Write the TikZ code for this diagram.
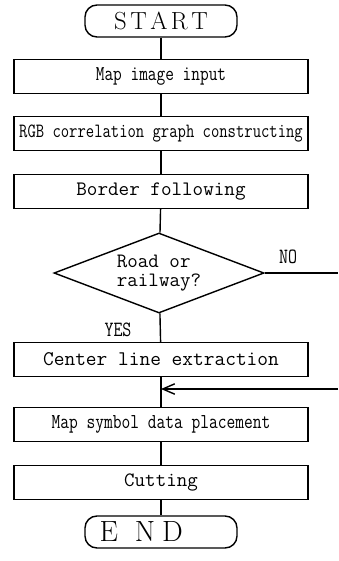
\documentclass[tikz,border=0pt]{standalone}
\usepackage{fontspec}
\usepackage{graphicx}
\usetikzlibrary{shapes.geometric,arrows.meta}
\newcommand{\squeeze}[1]{\scalebox{0.8}[1]{#1}}

\begin{document}
\begin{tikzpicture}[x=0.025cm, y=-0.025cm,
  termbox/.style={draw, line width=1pt, rounded corners=0.3cm, minimum width=3.8cm, minimum height=0.8cm, inner sep=0pt},
  procbox/.style={draw, line width=1pt, minimum width=7.35cm, minimum height=0.85cm, inner sep=1pt},
  decbox/.style={draw, line width=1pt, diamond, aspect=2.625, minimum width=5.25cm, minimum height=2cm, inner sep=0pt, align=left},
  flow/.style={line width=1pt}]
\useasboundingbox (0,0) rectangle (338,561);
\node [termbox, font=\fontsize{17.6}{20}\selectfont] (start) at (161,21) {S\hspace{2.5pt}T\hspace{2.5pt}A\hspace{2.5pt}R\hspace{2.5pt}T};
\node [procbox, font=\ttfamily\fontsize{15}{16}\selectfont] (mapin) at (161,76.5) {\squeeze{Map image input}};
\node [procbox, font=\ttfamily\fontsize{14.4}{16}\selectfont] (rgb) at (161,133.5) {\squeeze{RGB correlation graph constructing}};
\node [procbox, font=\ttfamily\fontsize{14.6}{16}\selectfont] (border) at (161,191.5) {Border following};
\node [decbox, font=\ttfamily\fontsize{14.5}{13}\selectfont] (road) at (159,273) {Road or\\railway?};
\node [procbox, font=\ttfamily\fontsize{14.8}{16}\selectfont] (center) at (161,359.5) {Center line extraction};
\node [procbox, font=\ttfamily\fontsize{15.1}{16}\selectfont] (symbol) at (161,424.5) {\squeeze{Map symbol data placement}};
\node [procbox, font=\ttfamily\fontsize{14.5}{16}\selectfont] (cut) at (161,482.5) {Cutting};
\node [termbox, font=\fontsize{20.8}{24}\selectfont] (end) at (161,532) {E\kern12pt N\kern5pt D\kern28pt\relax};
\node [font=\ttfamily\fontsize{15.5}{16}\selectfont] (yes) at (118,330) {\squeeze{YES}};
\node [font=\ttfamily\fontsize{15.5}{16}\selectfont] (no) at (288,257) {\squeeze{NO}};
\coordinate (noend) at (338,273);
\coordinate (backin) at (338,389);
\coordinate (merge) at (161,389);
\draw [flow] (start) -- (mapin);
\draw [flow] (mapin) -- (rgb);
\draw [flow] (rgb) -- (border);
\draw [flow] (border) -- (road);
\draw [flow] (road) -- (center);
\draw [flow] (center) -- (symbol);
\draw [flow] (symbol) -- (cut);
\draw [flow] (cut) -- (end);
\draw [flow] (road.east) -- (noend);
\draw [flow, -{Straight Barb[length=3mm, width=2.6mm]}] (backin) -- (merge);

% loop back from the NO branch joins above the symbol placement step
\end{tikzpicture}
\end{document}
